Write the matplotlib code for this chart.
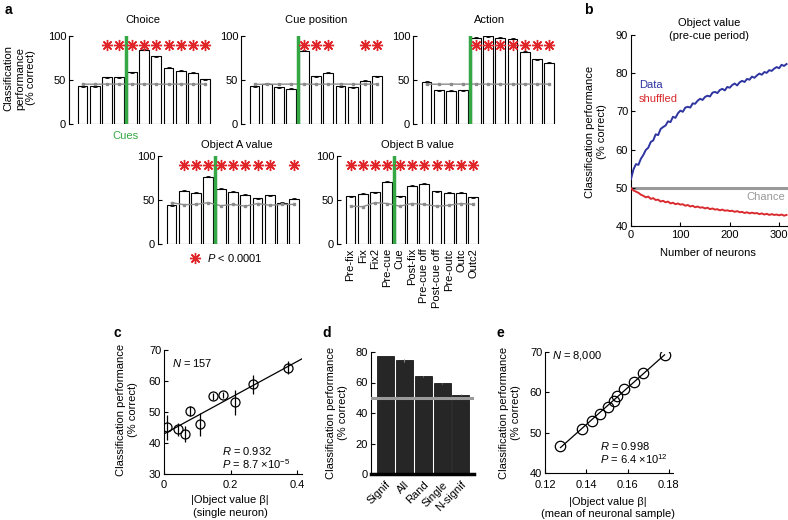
import numpy as np
import matplotlib
matplotlib.use('Agg')
import matplotlib.pyplot as plt

plt.rcParams['font.family'] = ['Liberation Sans', 'DejaVu Sans']
plt.rcParams['font.size'] = 8
plt.rcParams['mathtext.fontset'] = 'custom'
plt.rcParams['mathtext.rm'] = 'Liberation Sans'
plt.rcParams['mathtext.it'] = 'Liberation Sans:italic'
plt.rcParams['axes.linewidth'] = 0.8

# ---- data, panel a ----
epochs = ['Pre-fix', 'Fix', 'Fix2', 'Pre-cue', 'Cue', 'Post-fix', 'Pre-cue off',
          'Post-cue off', 'Pre-outc', 'Outc', 'Outc2']
choice = [43, 43, 53, 53, 59, 84.5, 77, 64, 60.5, 58, 51]
choice_shuf = [45.3, 45.2, 45.4, 45.3, 45.3, 45.4, 45.3, 45.2, 45.4, 45.3, 45.3]
choice_sig = [3, 4, 5, 6, 7, 8, 9, 10, 11]
cuepos = [43, 46, 41.5, 40, 83, 54.5, 58, 43, 42, 49, 54.5]
cuepos_shuf = [45.0, 45.3, 45.2, 45.4, 45.3, 45.2, 45.3, 45.4, 45.2, 45.3, 45.3]
cuepos_sig = [5, 6, 7, 10, 11]
action = [48, 38.5, 37.7, 38.5, 98, 99.6, 98, 97, 82, 73.5, 69.8]
action_shuf = [45.3, 45.2, 45.3, 45.3, 45.4, 45.3, 45.2, 45.3, 45.3, 45.4, 45.3]
action_sig = [5, 6, 7, 8, 9, 10, 11]
obj_a = [44, 60.5, 58.5, 76.5, 63, 59.5, 56, 52, 55.5, 47, 51.5]
obj_a_shuf = [47, 44.7, 45, 47, 43.5, 45, 43, 46, 44, 45, 45]
obj_a_sig = [2, 3, 4, 5, 6, 7, 8, 9, 11]
obj_b = [54.5, 57, 59, 70.5, 54, 66, 68.5, 60, 58.5, 58, 53]
obj_b_shuf = [43, 42.4, 47, 46, 43, 46, 45, 43, 44, 46, 45]
obj_b_sig = [1, 2, 3, 4, 5, 6, 7, 8, 9, 10, 11]

# ---- data, panel b ----
n_neurons = [0, 5, 10, 15, 20, 25, 30, 35, 40, 45, 50, 55, 60, 65, 70, 75, 80, 85, 90, 95,
             100, 105, 110, 115, 120, 125, 130, 135, 140, 145, 150, 155, 160, 165, 170, 175,
             180, 185, 190, 195, 200, 205, 210, 215, 220, 225, 230, 235, 240, 245, 250, 255,
             260, 265, 270, 275, 280, 285, 290, 295, 300, 305, 310, 315]
perf_data = [52.3, 54.8, 56.2, 56.0, 57.6, 58.6, 59.9, 60.5, 62.0, 62.4, 64.0, 63.8, 65.4,
             65.9, 66.3, 67.4, 67.2, 68.6, 68.3, 69.5, 70.2, 69.9, 71.0, 71.2, 71.0, 72.1,
             72.0, 72.8, 73.3, 73.0, 73.8, 74.1, 73.9, 74.9, 75.1, 74.8, 75.6, 75.9, 75.5,
             76.4, 76.2, 76.9, 77.3, 76.8, 77.6, 78.0, 77.7, 78.5, 78.3, 79.1, 78.8, 79.4,
             79.9, 79.6, 80.3, 80.1, 80.8, 80.6, 81.2, 81.6, 81.3, 82.2, 81.9, 82.4]
perf_shuf = [49.9, 49.3, 49.0, 48.7, 48.2, 47.9, 47.5, 47.7, 47.1, 47.3, 46.8, 46.9, 46.4,
             46.6, 46.2, 46.4, 45.9, 46.1, 45.7, 45.9, 45.6, 45.7, 45.3, 45.5, 45.1, 45.3,
             44.9, 45.1, 44.8, 44.9, 44.6, 44.8, 44.4, 44.6, 44.3, 44.4, 44.1, 44.3, 44.0,
             44.1, 43.9, 44.0, 43.7, 43.9, 43.6, 43.7, 43.4, 43.6, 43.3, 43.5, 43.3, 43.4,
             43.1, 43.3, 43.0, 43.2, 42.9, 43.1, 42.9, 43.0, 42.8, 43.0, 42.7, 42.9]

# ---- data, panel c ----
c_beta = [0.009, 0.042, 0.062, 0.079, 0.107, 0.148, 0.176, 0.213, 0.266, 0.373]
c_perf = [45.0, 44.4, 42.9, 50.4, 46.0, 55.0, 55.6, 53.1, 58.9, 64.3]
c_err = [4.0, 2.0, 2.7, 1.6, 3.8, 1.0, 1.0, 4.0, 3.0, 2.1]

# ---- data, panel d ----
d_groups = ['Signif', 'All', 'Rand', 'Single', 'N-signif']
d_perf = [77.4, 74.5, 64, 59.5, 52]
d_err = [0.3, 1.0, 0.3, 0.3, 0.3]

# ---- data, panel e ----
e_beta = [0.1275, 0.1381, 0.1426, 0.1464, 0.1504, 0.1533, 0.1549, 0.1581, 0.1632, 0.1677, 0.1779]
e_perf = [46.8, 50.9, 53.0, 54.6, 56.3, 57.8, 59.1, 60.9, 62.6, 64.8, 69.2]

W, H = 788, 520
fig = plt.figure(figsize=(W / 100, H / 100), dpi=100)

def rect(x0, y0, x1, y1):
    return [x0 / W, 1 - y1 / H, (x1 - x0) / W, (y1 - y0) / H]

def ftext(x, y, s, **kw):
    return fig.text(x / W, 1 - y / H, s, **kw)

green = '#35a845'
red = '#e0262b'
gray = '#8c8c8c'
star = (8, 2, 0)

def bar_panel(r, vals, shuf, sig, title, tx, ty, labels=False):
    ax = fig.add_axes(rect(*r))
    x = np.arange(1, len(vals) + 1)
    ax.bar(x, vals, width=0.8, color='white', edgecolor='black', linewidth=0.8, zorder=2)
    ax.errorbar(x, vals, yerr=0.6, fmt='none', ecolor='black', elinewidth=0.6,
                capsize=1.5, capthick=0.6, zorder=3)
    ax.plot(x, shuf, color=gray, lw=1.0, marker='s', ms=1.8, zorder=4)
    ax.axvline(4.5, ymin=0, ymax=1, color=green, lw=2.5, zorder=5)
    ax.plot(sig, [90] * len(sig), linestyle='none', marker=star, ms=8,
            mew=1.0, color=red, zorder=6, clip_on=False)
    ax.set_xlim(-0.1, 11.7)
    ax.set_ylim(0, 100)
    ax.set_yticks([0, 50, 100])
    for s in ['top', 'right', 'bottom']:
        ax.spines[s].set_visible(False)
    ax.tick_params(axis='y', direction='in', length=3, width=0.8, pad=2)
    if labels:
        ax.set_xticks(x)
        ax.set_xticklabels(labels, rotation=90)
        ax.tick_params(axis='x', length=0, pad=3)
    else:
        ax.set_xticks([])
    ftext(tx, ty, title, ha='center', va='center', fontsize=8)
    return ax

bar_panel((69, 36, 214, 124), choice, choice_shuf, choice_sig, 'Choice', 143, 20)
bar_panel((241, 36, 386, 124), cuepos, cuepos_shuf, cuepos_sig, 'Cue position', 316, 20)
bar_panel((413, 36, 558, 124), action, action_shuf, action_sig, 'Action', 490, 20)
bar_panel((158, 156, 303, 244), obj_a, obj_a_shuf, obj_a_sig, 'Object A value', 237, 145)
bar_panel((337, 156, 482, 244), obj_b, obj_b_shuf, obj_b_sig, 'Object B value', 417, 145,
          labels=epochs)

ftext(5, 10, 'a', fontsize=10, fontweight='bold', ha='left', va='center')
ftext(20, 78, 'Classification\nperformance\n(% correct)', rotation=90, ha='center',
      va='center', multialignment='center', linespacing=1.15)
ftext(125, 136, 'Cues', color=green, ha='center', va='center')
sax = fig.add_axes([0, 0, 1, 1], facecolor='none')
sax.set_xlim(0, W)
sax.set_ylim(H, 0)
sax.axis('off')
sax.plot([195], [257.5], marker=star, ms=8, mew=1.0, color=red)
ftext(207, 258, '$P$ < 0.0001', ha='left', va='center')

# ---- panel b ----
axb = fig.add_axes(rect(631, 35, 788, 226))
axb.axhline(50, color='#999999', lw=2.2, zorder=1)
axb.plot(n_neurons, perf_data, color='#2e34a0', lw=1.4, zorder=3)
axb.plot(n_neurons, perf_shuf, color='#d92a2e', lw=1.4, zorder=3)
axb.set_xlim(0, 318)
axb.set_ylim(40, 90)
axb.set_xticks([0, 100, 200, 300])
axb.set_yticks([40, 50, 60, 70, 80, 90])
for s in ['top', 'right']:
    axb.spines[s].set_visible(False)
axb.tick_params(direction='in', length=3, width=0.8, pad=2)
axb.tick_params(axis='x', pad=3)
ftext(588, 10, 'b', fontsize=10, fontweight='bold', ha='center', va='center')
ftext(709, 23, 'Object value', ha='center', va='center', fontsize=8)
ftext(709, 36, '(pre-cue period)', ha='center', va='center', fontsize=8)
ftext(639, 85, 'Data', color='#2e34a0', ha='left', va='center', fontsize=8)
ftext(639, 99, 'shuffled', color='#d92a2e', ha='left', va='center', fontsize=8)
ftext(785, 197, 'Chance', color='#999999', ha='right', va='center', fontsize=8)
ftext(708, 253, 'Number of neurons', ha='center', va='center', fontsize=8)
ftext(596, 132, 'Classification performance\n(% correct)', rotation=90, ha='center',
      va='center', multialignment='center', linespacing=1.15, fontsize=8)

# ---- panel c ----
axc = fig.add_axes(rect(164, 350, 302, 474))
slope, icpt = np.polyfit(c_beta, c_perf, 1)
xl = np.array([0, 0.414])
axc.plot(xl, icpt + slope * xl, color='black', lw=0.9)
axc.errorbar(c_beta, c_perf, yerr=c_err, fmt='o', mfc='none', mec='black', ms=6.5,
             mew=0.9, ecolor='black', elinewidth=0.9, capsize=0)
axc.set_xlim(0, 0.414)
axc.set_ylim(30, 70)
axc.set_xticks([0, 0.2, 0.4])
axc.set_xticklabels(['0', '0.2', '0.4'])
axc.set_yticks([30, 40, 50, 60, 70])
for s in ['top', 'right']:
    axc.spines[s].set_visible(False)
axc.tick_params(direction='in', length=3, width=0.8, pad=2)
axc.tick_params(axis='x', pad=4)
ftext(117, 333, 'c', fontsize=10, fontweight='bold', ha='center', va='center')
ftext(172, 363, '$N$ = 157', ha='left', va='center', fontsize=8)
ftext(222, 451, '$R$ = 0.932', ha='left', va='center', fontsize=8)
ftext(222, 464, '$P$ = 8.7 ×10$^{-5}$', ha='left', va='center', fontsize=8)
ftext(230, 500, '|Object value β|', ha='center', va='center', fontsize=8)
ftext(230, 513, '(single neuron)', ha='center', va='center', fontsize=8)
ftext(127, 410, 'Classification performance\n(% correct)', rotation=90, ha='center',
      va='center', multialignment='center', linespacing=1.15, fontsize=8)

# ---- panel d ----
axd = fig.add_axes(rect(371, 352, 474, 474))
xd = np.arange(1, len(d_perf) + 1)
axd.bar(xd, d_perf, width=0.9, color='#262626', edgecolor='black', lw=0.5, zorder=2)
axd.errorbar(xd, d_perf, yerr=d_err, fmt='none', ecolor='#888888', elinewidth=0.8, zorder=3)
axd.axhline(50, color='#9a9a9a', lw=2.2, zorder=4)
axd.set_xlim(0.23, 5.69)
axd.set_ylim(0, 80)
axd.set_yticks([0, 20, 40, 60, 80])
axd.set_xticks(xd)
axd.set_xticklabels(d_groups, rotation=45, ha='right', rotation_mode='anchor')
for s in ['top', 'right']:
    axd.spines[s].set_visible(False)
axd.spines['bottom'].set_linewidth(2.5)
axd.tick_params(axis='y', direction='in', length=3, width=0.8, pad=2)
axd.tick_params(axis='x', length=0, pad=4)
ftext(327, 333, 'd', fontsize=10, fontweight='bold', ha='center', va='center')
ftext(337, 413, 'Classification performance\n(% correct)', rotation=90, ha='center',
      va='center', multialignment='center', linespacing=1.15, fontsize=8)

# ---- panel e ----
axe = fig.add_axes(rect(545, 352, 673, 473))
se, ie = np.polyfit(e_beta, e_perf, 1)
xe = np.array([min(e_beta), max(e_beta)])
axe.plot(xe, ie + se * xe, color='black', lw=0.9)
axe.plot(e_beta, e_perf, linestyle='none', marker='o', mfc='none', mec='black', ms=7.5, mew=0.9)
axe.set_xlim(0.12, 0.182)
axe.set_ylim(40, 70)
axe.set_xticks([0.12, 0.14, 0.16, 0.18])
axe.set_yticks([40, 50, 60, 70])
for s in ['top', 'right']:
    axe.spines[s].set_visible(False)
axe.tick_params(direction='in', length=3, width=0.8, pad=2)
axe.tick_params(axis='x', pad=5)
ftext(500, 333, 'e', fontsize=10, fontweight='bold', ha='center', va='center')
ftext(552, 356, '$N$ = 8,000', ha='left', va='center', fontsize=8)
ftext(600, 446, '$R$ = 0.998', ha='left', va='center', fontsize=8)
ftext(600, 459, '$P$ = 6.4 ×10$^{12}$', ha='left', va='center', fontsize=8)
ftext(608, 502, '|Object value β|', ha='center', va='center', fontsize=8)
ftext(608, 514, '(mean of neuronal sample)', ha='center', va='center', fontsize=8)
ftext(510, 413, 'Classification performance\n(% correct)', rotation=90, ha='center',
      va='center', multialignment='center', linespacing=1.15, fontsize=8)

fig.savefig('out.png', dpi=100)
